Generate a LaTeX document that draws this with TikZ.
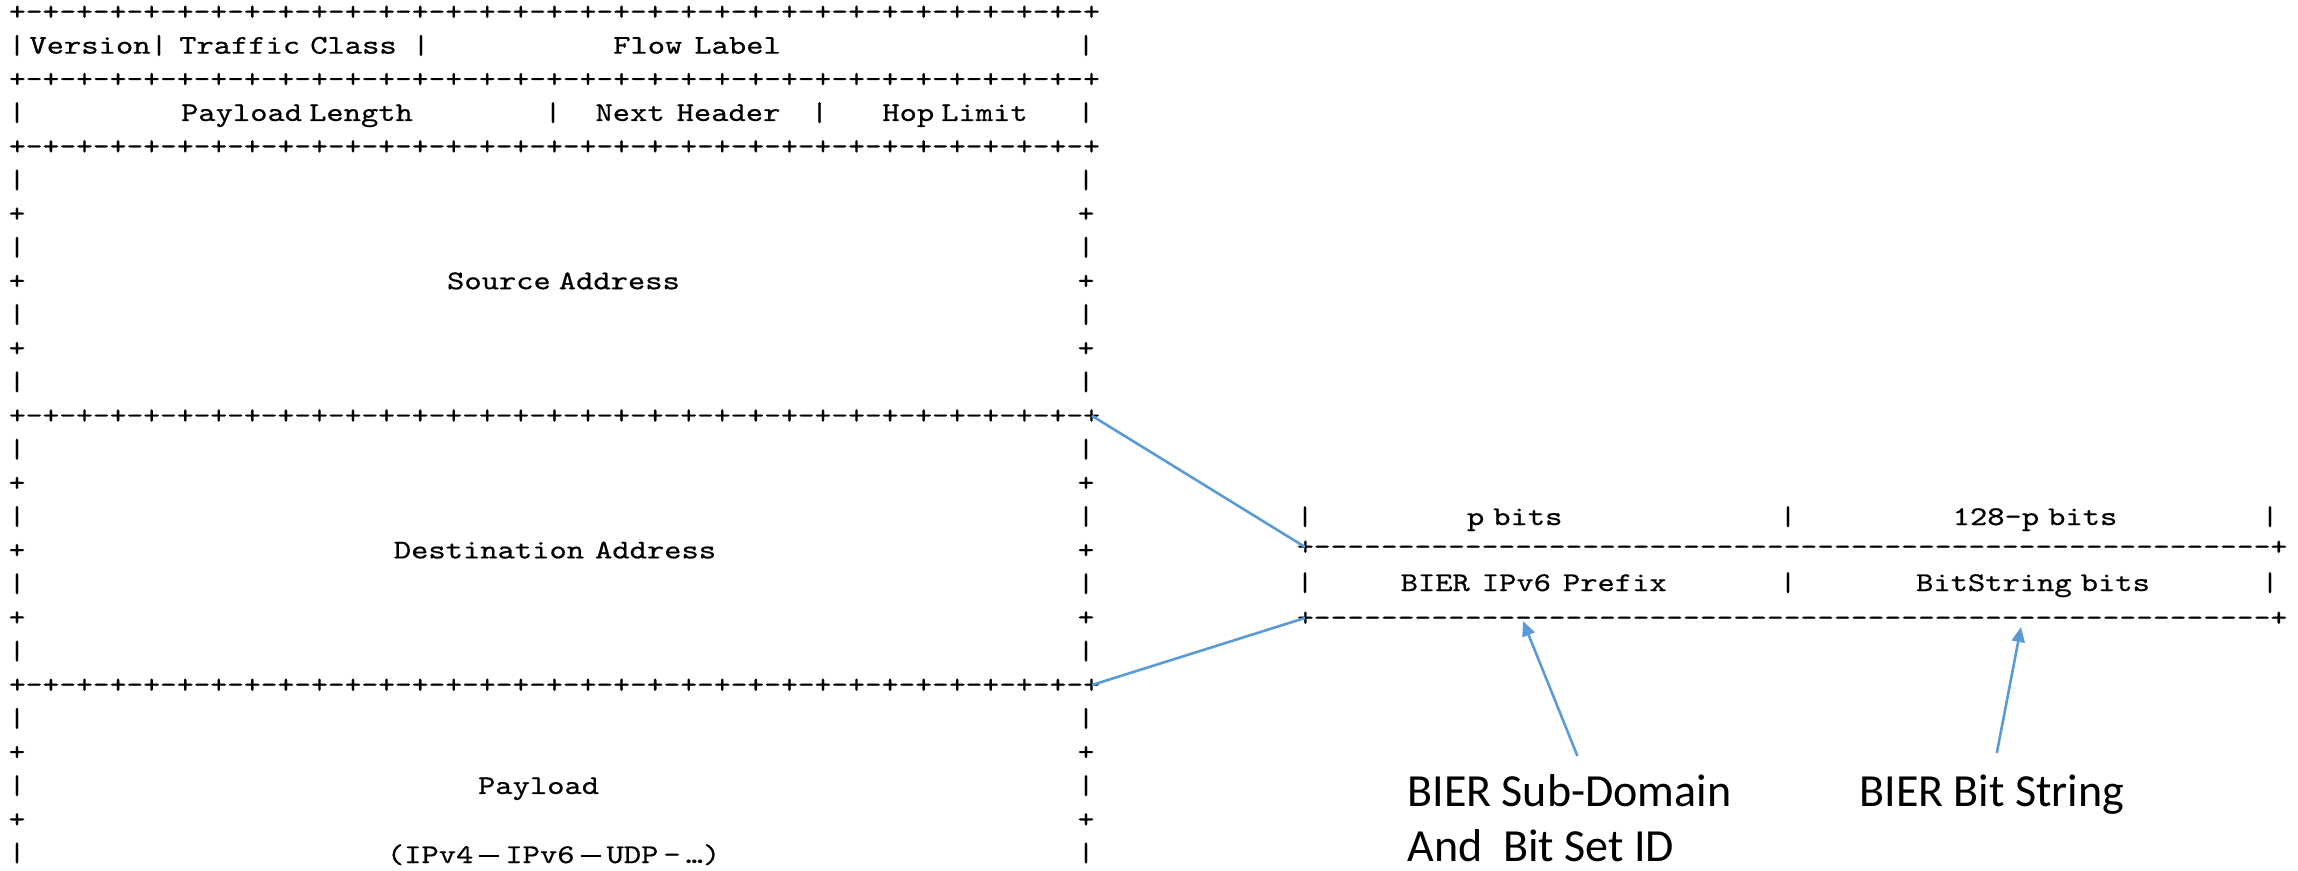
\documentclass[tikz,border=0pt]{standalone}
\usepackage{fontspec}
\usetikzlibrary{arrows.meta}
\newfontfamily\ascline[FakeStretch=1.184,FakeBold=0.6]{lmmono10-regular.otf}
\newfontfamily\asctext[FakeStretch=1.22,FakeBold=0.6]{lmmono10-regular.otf}
\newfontfamily\calib{Carlito}
\definecolor{lineblue}{RGB}{91,155,213}
\newcommand\hgap[1]{\hspace{#1pt}}
\newcommand\ndash{\rule[3.2pt]{10pt}{0.75pt}}
\def\pmgrp{+-+-+-+-+-+-+-+-}
\def\pmsep{\pmgrp\pmgrp\pmgrp\pmgrp+}
\newcommand\dsh{-\kern0pt}
\def\dshten{\dsh\dsh\dsh\dsh\dsh\dsh\dsh\dsh\dsh\dsh}
\def\dshline{+\kern0pt\dshten\dshten\dshten\dshten\dshten\dsh\dsh\dsh\dsh\dsh\dsh\dsh+}
\begin{document}
\begin{tikzpicture}[x=0.5pt,y=-0.5pt,
  asc/.style={font=\ascline\fontsize{13.5}{13.5}\selectfont, inner sep=0pt, text height=10pt, text depth=2pt},
  lab/.style={font=\asctext\fontsize{13.5}{13.5}\selectfont, inner sep=0pt, text height=10pt, text depth=2pt},
  calibri/.style={font=\calib\fontsize{23}{27.5}\selectfont, inner sep=0pt, align=left},
  link/.style={draw=lineblue, line width=1.3pt},
  pointer/.style={link, -{Triangle[length=7.5pt,width=6.5pt]}}]
\useasboundingbox (0,0) rectangle (2298,871);
% separator lines of the IPv6 header
\foreach \k in {0,2,4,12,20}
  \node[asc, anchor=west] (s\k) at (8.6,{12+33.65*\k}) {\pmsep};
% edge characters
\foreach \k/\c in {1/|,3/|,5/|,6/+,7/|,8/+,9/|,10/+,11/|,13/|,14/+,15/|,16/+,17/|,18/+,19/|,21/|,22/+,23/|,24/+,25/|} {
  \node[asc] (l\k) at (17,{12+33.65*\k}) {\c};
  \node[asc] (r\k) at (1086,{12+33.65*\k}) {\c};
}
% row 1
\node[lab] (ver) at (90,45.65) {Version};
\node[asc] (b1a) at (159,45.65) {|};
\node[lab] (tc) at (288,45.65) {Traffic\hgap{5}Class};
\node[asc] (b1b) at (421,45.65) {|};
\node[lab] (fl) at (697,45.65) {Flow\hgap{6}Label};
% row 3
\node[lab] (pl) at (297,112.95) {Payload\hgap{3.5}Length};
\node[asc] (b3a) at (553,112.95) {|};
\node[lab] (nh) at (688,112.95) {Next\hgap{6}Header};
\node[asc] (b3b) at (819.6,112.95) {|};
\node[lab] (hl) at (955,112.95) {Hop\hgap{3.5}Limit};
% addresses and payload
\node[lab] (src) at (563.5,281.2) {Source\hgap{4}Address};
\node[lab] (dst) at (555,550.4) {Destination\hgap{5.5}Address};
\node[lab] (pay) at (538.6,785.95) {Payload};
\node[lab] (proto) at (553.6,855) {(IPv4\hgap{3}\ndash\hgap{3}IPv6\hgap{3}\ndash\hgap{3}UDP\hgap{2.5}-\hgap{2.5}…)};
% right box
\foreach \x/\n in {1305/a,1788/b,2270/c} {
  \node[asc] (ta\n) at (\x,517) {|};
  \node[asc] (tb\n) at (\x,583) {|};
}
\node[lab] (pb) at (1514.7,517) {p\hgap{4.5}bits};
\node[lab] (qb) at (2035,517) {128-p\hgap{4.5}bits};
\node[asc, anchor=west] (d1) at (1296.6,547) {\dshline};
\node[lab] (pre) at (1533.7,583) {BIER\hgap{6}IPv6\hgap{6}Prefix};
\node[lab] (bsb) at (2033,583) {BitString\hgap{4.5}bits};
\node[asc, anchor=west] (d2) at (1296.6,618) {\dshline};
% callout labels
\node[calibri, anchor=north west] (sd) at (1407,774) {BIER Sub-Domain\\And~ Bit Set ID};
\node[calibri, anchor=base west] (bs) at (1859,806) {BIER Bit String};
\coordinate (tip1) at (1523,621);
\coordinate (tip2) at (2021,627);
% connectors
\draw[link] ([xshift=-4.2pt]s12.east) -- ([xshift=4.2pt]d1.west);
\draw[link] ([xshift=-4.2pt]s20.east) -- ([xshift=4.2pt]d2.west);
\draw[pointer] ([xshift=4pt,yshift=9pt]sd.north) -- (tip1);
\draw[pointer] ([xshift=2.5pt,yshift=10.5pt]bs.north) -- (tip2);
\end{tikzpicture}
\end{document}
